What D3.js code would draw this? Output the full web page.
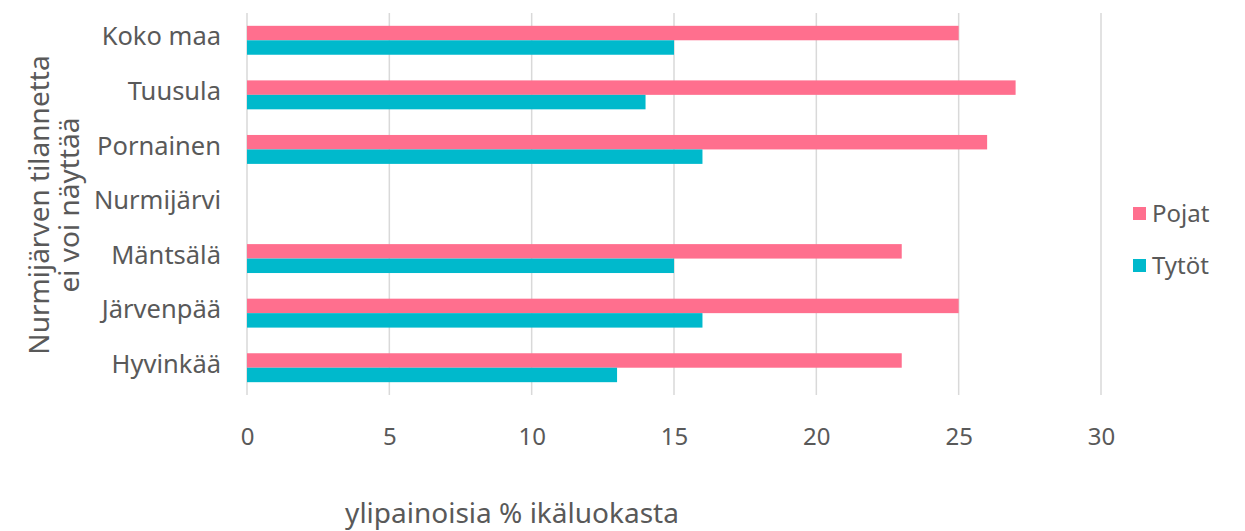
<!DOCTYPE html>
<html>
<head>
<meta charset="utf-8">
<script src="https://cdn.jsdelivr.net/npm/d3@7"></script>
<style>
  html, body { margin: 0; padding: 0; background: #fff; }
  svg text { font-family: "Noto Sans", "Open Sans", sans-serif; fill: #595959; }
</style>
</head>
<body>
<div id="chart"></div>
<script>
var categories = ["Koko maa", "Tuusula", "Pornainen", "Nurmijärvi", "Mäntsälä", "Järvenpää", "Hyvinkää"];
var seriesNames = ["Pojat", "Tytöt"];
var pojat = [25, 27, 26, null, 23, 25, 23];
var tytot = [15, 14, 16, null, 15, 16, 13];
var xTicks = [0, 5, 10, 15, 20, 25, 30];
var colors = ["#ff6f8e", "#00b9cc"];
var yTitleLines = ["Nurmijärven tilannetta", "ei voi näyttää"];
var xTitle = "ylipainoisia % ikäluokasta";

var width = 1245, height = 531;
var plot = {left: 247, right: 1101, top: 13, bottom: 395};

var svg = d3.select("#chart").append("svg")
    .attr("width", width)
    .attr("height", height);

var x = d3.scaleLinear().domain([0, 30]).range([plot.left, plot.right]);
var y0 = d3.scaleBand().domain(categories)
    .range([plot.top, plot.bottom])
    .paddingInner(0.47)
    .paddingOuter(0.235);
var y1 = d3.scaleBand().domain(seriesNames).range([0, y0.bandwidth()]);

var rows = categories.map(function(c, i) {
    return {cat: c, values: [pojat[i], tytot[i]]};
});

// gridlines
svg.append("g")
    .selectAll("line")
    .data(xTicks)
    .enter().append("line")
        .attr("x1", function(d) { return x(d); })
        .attr("x2", function(d) { return x(d); })
        .attr("y1", plot.top)
        .attr("y2", plot.bottom)
        .attr("stroke", "#d9d9d9")
        .attr("stroke-width", 1.5);

// bars (Nurmijärvi has no values)
svg.append("g")
    .selectAll("g")
    .data(rows)
    .enter().append("g")
        .attr("transform", function(r) { return "translate(0," + y0(r.cat) + ")"; })
    .selectAll("rect")
    .data(function(r) {
        return seriesNames.map(function(s, j) { return {key: s, value: r.values[j], idx: j}; })
            .filter(function(d) { return d.value != null; });
    })
    .enter().append("rect")
        .attr("x", x(0))
        .attr("y", function(d) { return y1(d.key); })
        .attr("width", function(d) { return x(d.value) - x(0); })
        .attr("height", y1.bandwidth())
        .attr("fill", function(d) { return colors[d.idx]; });

// x axis labels
var xAxis = svg.append("g")
    .attr("transform", "translate(0,445)")
    .call(d3.axisBottom(x).tickValues(xTicks).tickSize(0).tickPadding(0));
xAxis.select(".domain").remove();
xAxis.selectAll("text")
    .attr("dy", 0)
    .style("font-size", "24px")
    .style("fill", "#595959");

// y axis labels
var yAxis = svg.append("g")
    .attr("transform", "translate(221,-3)")
    .call(d3.axisLeft(y0).tickSize(0).tickPadding(0));
yAxis.select(".domain").remove();
yAxis.selectAll("text")
    .style("font-size", "25.5px")
    .style("fill", "#595959");

// y title
var yTitle = svg.append("text")
    .attr("transform", "translate(40,205) rotate(-90)")
    .attr("text-anchor", "middle")
    .style("font-size", "28px");
yTitle.selectAll("tspan")
    .data(yTitleLines)
    .enter().append("tspan")
        .attr("x", 0)
        .attr("y", function(d, i) { return 9 + i * 30; })
        .text(function(d) { return d; });

// x title
svg.append("text")
    .attr("x", 512)
    .attr("y", 523)
    .attr("text-anchor", "middle")
    .style("font-size", "28px")
    .text(xTitle);

// legend
var legend = svg.append("g")
    .selectAll("g")
    .data(seriesNames)
    .enter().append("g")
        .attr("transform", function(d, i) { return "translate(1133," + (207 + i * 52) + ")"; });

legend.append("rect")
    .attr("width", 13)
    .attr("height", 13)
    .attr("fill", function(d, i) { return colors[i]; });

legend.append("text")
    .attr("x", 19)
    .attr("y", 6.5)
    .attr("dy", "0.35em")
    .style("font-size", "24px")
    .text(function(d) { return d; });
</script>
</body>
</html>
